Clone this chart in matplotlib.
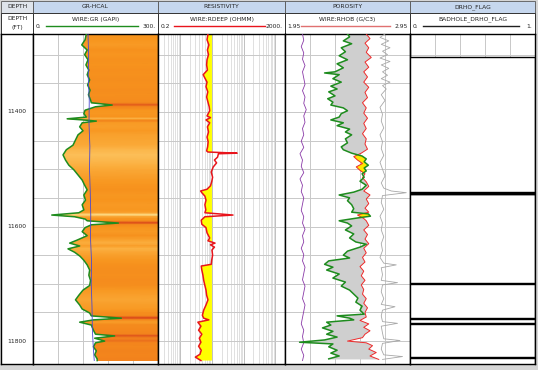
import numpy as np
import matplotlib
matplotlib.use("Agg")
import matplotlib.pyplot as plt
from matplotlib.colors import LinearSegmentedColormap, Normalize
from matplotlib.patches import Rectangle

gr_depth = [11264, 11274, 11283, 11292, 11300, 11309, 11318, 11327, 11335, 11344,
            11353, 11362, 11370, 11379, 11384, 11388, 11391, 11397, 11403, 11409,
            11412, 11414, 11416, 11419, 11426, 11433, 11440, 11449, 11458, 11466,
            11475, 11484, 11493, 11501, 11510, 11519, 11528, 11536, 11545, 11554,
            11562, 11571, 11576, 11580, 11583, 11587, 11590, 11594, 11597, 11602,
            11609, 11616, 11624, 11629, 11634, 11639, 11645, 11652, 11659, 11667,
            11676, 11685, 11694, 11703, 11711, 11720, 11728, 11737, 11744, 11751,
            11756, 11760, 11763, 11767, 11772, 11781, 11788, 11791, 11795, 11800,
            11803, 11810, 11817, 11824, 11831, 11834]
gr = [128, 125, 117, 130, 124, 132, 127, 134, 130, 136,
      131, 137, 133, 138, 140, 190, 150, 125, 122, 128,
      82, 120, 152, 118, 112, 120, 108, 102, 96, 80,
      72, 78, 86, 98, 108, 118, 124, 130, 122, 126,
      118, 122, 110, 45, 100, 125, 130, 205, 140, 125,
      118, 130, 105, 88, 112, 84, 100, 113, 122, 130,
      136, 134, 138, 136, 120, 110, 102, 112, 118, 136,
      140, 212, 145, 112, 140, 145, 150, 196, 148, 172,
      150, 145, 152, 148, 154, 154]

cali_depth = [11264, 11300, 11340, 11380, 11420, 11460, 11500, 11540, 11580,
              11620, 11660, 11700, 11740, 11780, 11810, 11834]
cali = [10.40, 10.45, 10.42, 10.50, 10.48, 10.55, 10.52, 10.58, 10.62,
        10.60, 10.68, 10.66, 10.72, 10.75, 10.82, 10.90]

res_depth = [11264, 11274, 11283, 11292, 11300, 11309, 11318, 11327, 11335, 11341,
             11348, 11356, 11365, 11374, 11383, 11391, 11398, 11407, 11410, 11414,
             11419, 11426, 11435, 11444, 11452, 11461, 11468, 11470, 11472, 11473,
             11479, 11484, 11489, 11496, 11505, 11514, 11522, 11529, 11535, 11538,
             11541, 11547, 11554, 11562, 11571, 11576, 11580, 11583, 11589, 11596,
             11602, 11611, 11620, 11625, 11629, 11632, 11636, 11641, 11650, 11659,
             11666, 11669, 11676, 11685, 11694, 11703, 11711, 11720, 11728, 11737,
             11746, 11755, 11760, 11763, 11767, 11774, 11781, 11788, 11795, 11802,
             11809, 11816, 11823, 11828, 11834]
rdeep = [7.5, 7.0, 8.0, 7.2, 7.8, 7.0, 6.8, 7.2, 5.3, 6.0,
         7.0, 6.5, 7.4, 6.8, 7.5, 8.2, 8.5, 7.0, 9.0, 6.5,
         8.5, 7.2, 7.8, 7.0, 7.6, 7.3, 6.8, 7.5, 62, 16,
         15, 12, 14, 11, 9.5, 10.5, 9.8, 9.0, 7.0, 4.4,
         4.8, 6.0, 6.5, 6.0, 6.4, 6.0, 46, 6.0, 4.6, 4.8,
         6.5, 7.0, 8.5, 7.5, 12.5, 9.0, 12, 10, 10.5, 9.8,
         9.5, 4.6, 4.8, 5.2, 5.5, 6.0, 6.5, 6.8, 7.5, 6.5,
         5.5, 5.0, 5.5, 8.0, 3.6, 4.5, 3.8, 4.8, 4.0, 4.5,
         3.8, 4.6, 4.2, 3.0, 4.5]

rhob_depth = [11264, 11272, 11280, 11288, 11296, 11305, 11313, 11322, 11330, 11339,
              11348, 11357, 11366, 11375, 11384, 11393, 11402, 11411, 11420, 11429,
              11438, 11447, 11456, 11465, 11472, 11478, 11484, 11490, 11496, 11502,
              11508, 11515, 11522, 11530, 11538, 11545, 11552, 11560, 11568, 11575,
              11580, 11586, 11590, 11598, 11606, 11614, 11622, 11630, 11638, 11646,
              11654, 11662, 11670, 11678, 11686, 11694, 11702, 11710, 11718, 11726,
              11734, 11742, 11750, 11758, 11764, 11770, 11776, 11782, 11788, 11794,
              11800, 11803, 11808, 11814, 11820, 11826, 11832]
rhob = [2.60, 2.63, 2.59, 2.62, 2.60, 2.64, 2.59, 2.62, 2.58, 2.61,
        2.58, 2.62, 2.59, 2.61, 2.57, 2.60, 2.58, 2.61, 2.58, 2.60,
        2.57, 2.60, 2.59, 2.61, 2.56, 2.50, 2.53, 2.57, 2.52, 2.55,
        2.59, 2.57, 2.60, 2.62, 2.58, 2.63, 2.60, 2.62, 2.59, 2.62,
        2.53, 2.58, 2.60, 2.62, 2.58, 2.61, 2.59, 2.62, 2.58, 2.60,
        2.57, 2.59, 2.55, 2.58, 2.56, 2.59, 2.56, 2.58, 2.57, 2.60,
        2.58, 2.61, 2.59, 2.60, 2.55, 2.62, 2.58, 2.63, 2.59, 2.57,
        2.45, 2.60, 2.65, 2.62, 2.68, 2.63, 2.70]

nphi_depth = [11264, 11269, 11276, 11281, 11288, 11295, 11302, 11309, 11316, 11323,
              11330, 11332, 11335, 11342, 11348, 11355, 11360, 11365, 11372, 11377,
              11383, 11388, 11393, 11398, 11403, 11409, 11414, 11419, 11424, 11430,
              11435, 11440, 11447, 11454, 11461, 11466, 11472, 11477, 11482, 11487,
              11493, 11498, 11503, 11508, 11514, 11521, 11528, 11535, 11540, 11545,
              11550, 11555, 11562, 11569, 11575, 11578, 11582, 11585, 11590, 11594,
              11599, 11606, 11613, 11620, 11627, 11631, 11636, 11643, 11650, 11655,
              11660, 11666, 11671, 11676, 11683, 11690, 11697, 11704, 11711, 11718,
              11725, 11732, 11739, 11746, 11753, 11756, 11760, 11763, 11767, 11772,
              11777, 11783, 11788, 11793, 11798, 11802, 11805, 11810, 11816, 11821,
              11826, 11831]
nphi = [0.15, 0.14, 0.17, 0.13, 0.18, 0.16, 0.19, 0.15, 0.20, 0.17,
        0.21, 0.26, 0.19, 0.22, 0.18, 0.23, 0.20, 0.24, 0.21, 0.245,
        0.22, 0.23, 0.17, 0.15, 0.18, 0.19, 0.23, 0.17, 0.20, 0.14,
        0.16, 0.13, 0.16, 0.15, 0.18, 0.17, 0.13, 0.08, 0.06, 0.07,
        0.05, 0.07, 0.06, 0.08, 0.07, 0.09, 0.06, 0.08, 0.12, 0.19,
        0.14, 0.15, 0.13, 0.12, 0.13, 0.05, 0.04, 0.10, 0.19, 0.15,
        0.13, 0.16, 0.12, 0.14, 0.11, 0.06, 0.09, 0.15, 0.17, 0.14,
        0.24, 0.26, 0.22, 0.25, 0.19, 0.22, 0.16, 0.18, 0.14, 0.12,
        0.10, 0.11, 0.08, 0.09, 0.07, 0.20, 0.14, 0.12, 0.25, 0.23,
        0.27, 0.22, 0.25, 0.20, 0.26, 0.38, 0.22, 0.24, 0.20, 0.23,
        0.19, 0.24]

pef_depth = [11264, 11275, 11286, 11297, 11308, 11319, 11330, 11341, 11352, 11363,
             11374, 11385, 11396, 11407, 11418, 11429, 11440, 11451, 11462, 11473,
             11484, 11495, 11506, 11517, 11528, 11539, 11550, 11561, 11572, 11583,
             11594, 11605, 11616, 11627, 11638, 11649, 11660, 11671, 11682, 11693,
             11704, 11715, 11726, 11737, 11748, 11759, 11770, 11781, 11792, 11803,
             11814, 11825, 11834]
pef = [1.4, 1.5, 1.3, 1.5, 1.4, 1.6, 1.4, 1.5, 1.6, 1.4,
       1.6, 1.5, 1.7, 1.5, 1.6, 1.4, 1.5, 1.3, 1.5, 1.2,
       1.4, 1.3, 1.5, 1.2, 1.4, 1.3, 1.5, 1.4, 1.3, 1.5,
       1.4, 1.6, 1.4, 1.5, 1.3, 1.5, 1.4, 1.6, 1.5, 1.4,
       1.6, 1.5, 1.4, 1.6, 1.5, 1.4, 1.3, 1.5, 1.4, 1.5,
       1.3, 1.5, 1.4]

drho_depth = [11264, 11270, 11276, 11282, 11288, 11294, 11300, 11306, 11312, 11318,
              11324, 11330, 11336, 11342, 11348, 11354, 11360, 11370, 11380, 11392,
              11404, 11416, 11428, 11440, 11452, 11464, 11476, 11488, 11500, 11512,
              11524, 11533, 11538, 11541, 11546, 11558, 11570, 11582, 11594, 11606,
              11618, 11630, 11642, 11654, 11664, 11667, 11672, 11684, 11694, 11698,
              11702, 11714, 11726, 11736, 11740, 11746, 11756, 11766, 11769, 11774,
              11786, 11796, 11799, 11804, 11814, 11824, 11827, 11832]
drho = [0.05, 0.01, 0.08, 0.02, 0.09, 0.03, 0.07, 0.01, 0.09, 0.02,
        0.08, 0.03, 0.07, 0.02, 0.09, 0.03, 0.06, 0.02, 0.05, 0.01,
        0.03, 0.02, 0.04, 0.01, 0.03, 0.02, 0.04, 0.01, 0.03, 0.05,
        0.02, 0.04, 0.10, 0.22, 0.03, 0.02, 0.04, 0.01, 0.03, 0.02,
        0.04, 0.02, 0.03, 0.01, 0.04, 0.14, 0.02, 0.03, 0.02, 0.15,
        0.03, 0.02, 0.04, 0.02, 0.13, 0.03, 0.02, 0.03, 0.15, 0.02,
        0.03, 0.04, 0.17, 0.03, 0.02, 0.04, 0.19, 0.03]

flag_depth = [11264, 11304, 11304, 11540, 11540, 11541, 11541, 11543, 11543, 11544,
              11544, 11699, 11699, 11700, 11700, 11760, 11760, 11761, 11761, 11769,
              11769, 11770, 11770, 11828, 11828, 11829, 11829, 11840]
flag = [0, 0, 1, 1, 0, 0, 1, 1, 0, 0,
        1, 1, 0, 0, 1, 1, 0, 0, 1, 1,
        0, 0, 1, 1, 0, 0, 1, 1]

depth_labels = [11400, 11600, 11800]
track_titles = ["GR-HCAL", "RESISTIVITY", "POROSITY", "DRHO_FLAG"]
curve_titles = ["WIRE:GR (GAPI)", "WIRE:RDEEP (OHMM)", "WIRE:RHOB (G/C3)", "BADHOLE_DRHO_FLAG"]
scale_left = ["0.", "0.2", "1.95", "0."]
scale_right = ["300.", "2000.", "2.95", "1."]
scale_colors = ["#1e8c1e", "#e8141c", "#e07070", "#202020"]

# ---- layout (pixels) ----
W, H = 538, 370
d_top, d_bot = 11264, 11840
cols = [1, 33, 158, 285, 410, 535]
y_h1, y_h2, y_dat, y_end = 1, 13, 34, 364

fig = plt.figure(figsize=(W / 100, H / 100), dpi=100)


def px_axes(x0, y0, x1, y1):
    return fig.add_axes([x0 / W, 1 - y1 / H, (x1 - x0) / W, (y1 - y0) / H])


hdr = fig.add_axes([0, 0, 1, 1], zorder=0)
hdr.set_xlim(0, W)
hdr.set_ylim(H, 0)
hdr.axis("off")
hdr.add_patch(Rectangle((0, 0), W, H, facecolor="#d6d6d6", edgecolor="none"))
hdr.add_patch(Rectangle((1, 1), 534, 363, facecolor="white", edgecolor="none"))
# header row 1
for i in range(5):
    fc = "#dfe4eb" if i == 0 else "#c6d7ee"
    hdr.add_patch(Rectangle((cols[i], y_h1), cols[i + 1] - cols[i], y_h2 - y_h1,
                            facecolor=fc, edgecolor="#555555", lw=0.6))
    hdr.add_patch(Rectangle((cols[i], y_h2), cols[i + 1] - cols[i], y_dat - y_h2,
                            facecolor="white", edgecolor="#333333", lw=0.7))
hdr.text((cols[0] + cols[1]) / 2, 7, "DEPTH", ha="center", va="center", fontsize=4.3, color="#222222")
hdr.text((cols[0] + cols[1]) / 2, 19, "DEPTH", ha="center", va="center", fontsize=4.3, color="#222222")
hdr.text((cols[0] + cols[1]) / 2, 27, "(FT)", ha="center", va="center", fontsize=4.3, color="#222222")
for i in range(4):
    x0, x1 = cols[i + 1], cols[i + 2]
    xm = (x0 + x1) / 2
    hdr.text(xm, 7, track_titles[i], ha="center", va="center", fontsize=4.3, color="#222222")
    hdr.text(xm, 19, curve_titles[i], ha="center", va="center", fontsize=4.3, color="#222222")
    hdr.text(x0 + 2.5, 26, scale_left[i], ha="left", va="center", fontsize=4.3, color="#222222")
    hdr.text(x1 - 2.5, 26, scale_right[i], ha="right", va="center", fontsize=4.3, color="#222222")
    pad_l = 13 if len(scale_left[i]) < 3 else 16
    pad_r = 20 if len(scale_right[i]) > 3 else 16
    hdr.plot([x0 + pad_l, x1 - pad_r], [26, 26], color=scale_colors[i], lw=1.0)

grid_c = "#c8c8c8"


def track(i):
    ax = px_axes(cols[i], y_dat, cols[i + 1], y_end)
    ax.set_ylim(d_bot, d_top)
    ax.set_xticks([])
    ax.set_yticks([])
    for s in ax.spines.values():
        s.set_color("black")
        s.set_linewidth(1.0)
    return ax


def hgrid(ax):
    for d in range(11300, 11850, 50):
        ax.axhline(d, color=grid_c, lw=0.7, zorder=0.5)


# depth track
ax_d = track(0)
ax_d.set_xlim(0, 1)
for d in depth_labels:
    ax_d.text(0.5, d, str(d), ha="center", va="center", fontsize=4.3, color="#222222")

# GR track
ax_gr = track(1)
ax_gr.set_xlim(0, 300)
hgrid(ax_gr)
for v in [60, 120, 180, 240]:
    ax_gr.axvline(v, color=grid_c, lw=0.7, zorder=0.5)
gr_cmap = LinearSegmentedColormap.from_list(
    "gr", [(0.0, "#fff0a0"), (0.12, "#fdd47c"), (0.3, "#fbb040"),
           (0.52, "#f7941d"), (0.7, "#f17e1c"), (1.0, "#d8401a")])
gd = np.array(gr_depth)
gv = np.array(gr)
poly = ax_gr.fill_betweenx(gd, gv, 300, facecolor="none", lw=0)
X = np.array([[0, 300]] * len(gd))
Y = np.column_stack([gd, gd])
C = np.column_stack([gv, gv])
mesh = ax_gr.pcolormesh(X, Y, C, cmap=gr_cmap, norm=Normalize(30, 215),
                        shading="gouraud", zorder=1)
mesh.set_clip_path(poly.get_paths()[0], transform=ax_gr.transData)
ax_gr.plot(gv, gd, color="#1e8c1e", lw=1.1, zorder=3)
cali_x = (np.array(cali) - 6) / 10 * 300
ax_gr.plot(cali_x, cali_depth, color="#4a4ad0", lw=0.6, zorder=4)

# resistivity track
ax_r = track(2)
ax_r.set_xscale("log")
ax_r.set_xlim(0.2, 2000)
ax_r.set_xticks([])
ax_r.set_xticks([], minor=True)
hgrid(ax_r)
for e in range(-1, 4):
    for k in range(1, 10):
        v = k * 10.0 ** e
        if 0.2 < v < 2000:
            ax_r.axvline(v, color="#b5b5b5" if k == 1 else "#dadada", lw=0.6, zorder=0.4)
rd = np.array(res_depth)
rv = np.array(rdeep)
ax_r.fill_betweenx(rd, rv, 10, where=rv < 10, interpolate=True, color="#ffff00", lw=0, zorder=1)
ax_r.plot(rv, rd, color="#e8141c", lw=1.1, zorder=3)

# porosity track (positions as track fraction)
ax_p = track(3)
ax_p.set_xlim(0, 1)
hgrid(ax_p)
for v in [0.2, 0.4, 0.6, 0.8]:
    ax_p.axvline(v, color=grid_c, lw=0.7, zorder=0.5)
rhob_x = np.array(rhob) - 1.95
nphi_x = (0.45 - np.array(nphi)) / 0.6
# put both curves on a common depth list for the shading
common = np.union1d(rhob_depth, nphi_depth)
rx = np.interp(common, rhob_depth, rhob_x)
nx = np.interp(common, nphi_depth, nphi_x)
ax_p.fill_betweenx(common, nx, rx, where=rx >= nx, interpolate=True, color="#cfcfcf", lw=0, zorder=1)
ax_p.fill_betweenx(common, nx, rx, where=rx < nx, interpolate=True, color="#ffe600", lw=0, zorder=1)
ax_p.plot(np.array(pef) / 10, pef_depth, color="#8a3aa8", lw=0.6, zorder=3)
ax_p.plot(np.array(drho) + 0.75, drho_depth, color="#a8a8a8", lw=0.6, zorder=3)
ax_p.plot(rhob_x, rhob_depth, color="#ee2a2a", lw=0.7, zorder=4)
ax_p.plot(nphi_x, nphi_depth, color="#1e8c1e", lw=1.1, zorder=4)

# flag track
ax_f = track(4)
ax_f.set_xlim(0, 1)
hgrid(ax_f)
for v in [0.2, 0.4, 0.6, 0.8]:
    ax_f.axvline(v, color=grid_c, lw=0.7, zorder=0.5)
ax_f.fill_betweenx(flag_depth, 0, flag, color="white", lw=0, zorder=1)
ax_f.plot(flag, flag_depth, color="black", lw=1.0, zorder=3)

fig.savefig("out.png", dpi=100)
